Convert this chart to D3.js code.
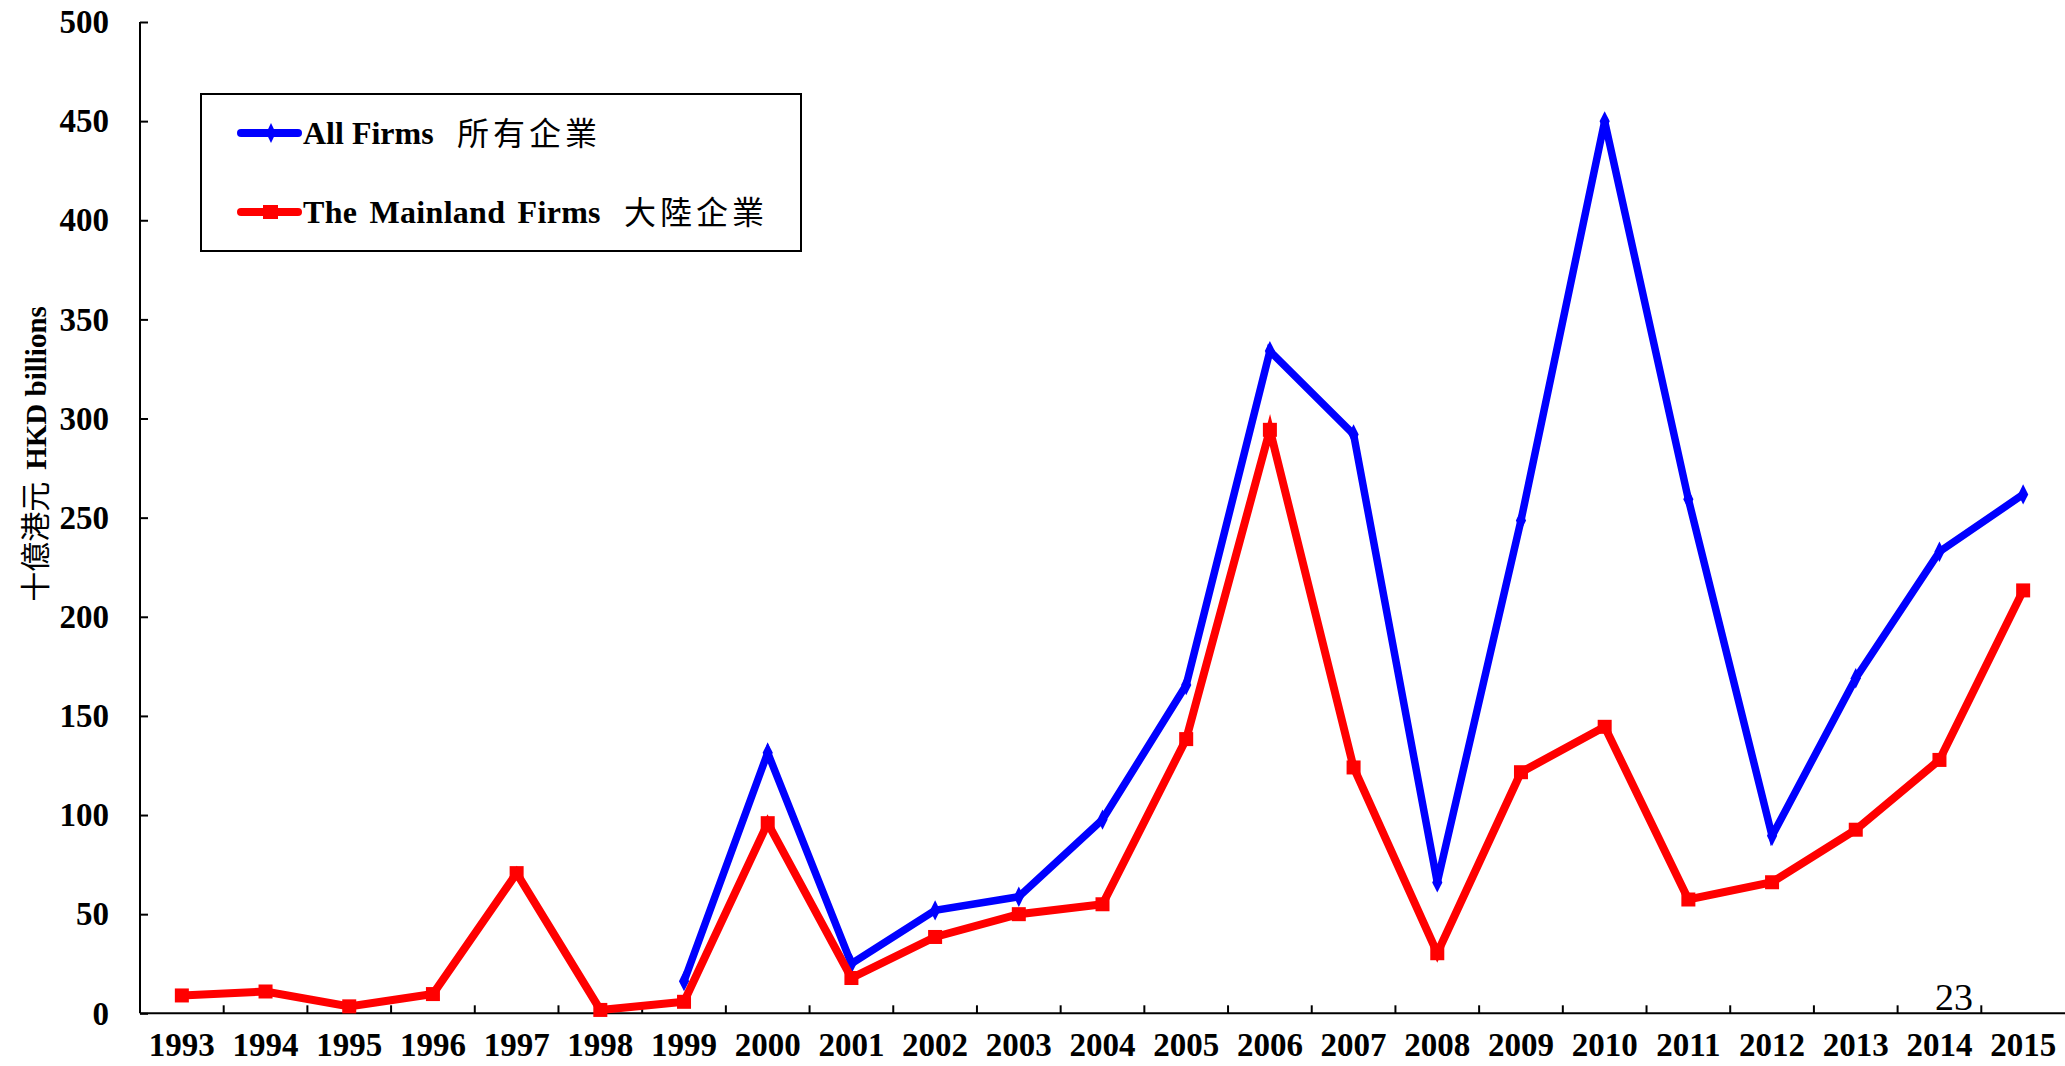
<!DOCTYPE html>
<html>
<head>
<meta charset="utf-8">
<script src="https://cdn.jsdelivr.net/npm/d3@7"></script>
<style>
  html, body { margin: 0; padding: 0; background: #fff; }
  svg { display: block; }
</style>
</head>
<body>
<svg id="chart" width="2065" height="1066"></svg>
<script>
// Annual funds raised, HKD billions
const years = ["1993","1994","1995","1996","1997","1998","1999","2000","2001","2002","2003","2004",
               "2005","2006","2007","2008","2009","2010","2011","2012","2013","2014","2015"];
const allFirms = [null, null, null, null, null, null, 16.2, 131.4, 25, 51.9, 58.8, 97.7,
                  165.6, 334, 292, 66, 248.6, 449.9, 259.3, 89.5, 169, 232.8, 261.7];
const mainlandFirms = [9, 11, 3.5, 9.7, 70.7, 1.7, 5.8, 95.9, 17.8, 38.5, 50, 55,
                       138.3, 294.3, 124, 30.3, 121.6, 144.5, 57.4, 66.1, 92.6, 127.8, 213.3];
const yTicks = [0, 50, 100, 150, 200, 250, 300, 350, 400, 450, 500];

const serif = "'Liberation Serif', 'Times New Roman', serif";
const cjk = "'Noto Sans CJK TC', 'Noto Sans CJK SC', sans-serif";
const BLUE = "#0000ff", RED = "#ff0000";

const svg = d3.select("#chart");

const x = d3.scaleBand().domain(years).range([140, 2065]).padding(0);
const y = d3.scaleLinear().domain([0, 500]).range([1013.3, 22]);
const cx = d => x(d) + x.bandwidth() / 2;

// Axes
const yAxis = svg.append("g").attr("transform", "translate(140,0)")
  .call(d3.axisRight(y).tickValues(yTicks).tickSize(8).tickFormat(""));
yAxis.select(".domain").attr("d", `M0,${y(500)}V${y(0)}`);
yAxis.selectAll("path, line").attr("stroke", "#000").attr("stroke-width", 2);

const boundaries = years.map(d => x(d));
const xAxis = svg.append("g").attr("transform", `translate(0,${y(0)})`);
xAxis.append("line").attr("x1", 140).attr("x2", 2065).attr("y1", 0).attr("y2", 0)
  .attr("stroke", "#000").attr("stroke-width", 2);
xAxis.selectAll("line.tick").data(boundaries.slice(1)).join("line")
  .attr("class", "tick").attr("x1", d => d).attr("x2", d => d).attr("y1", 0).attr("y2", -8)
  .attr("stroke", "#000").attr("stroke-width", 2);

// Tick labels
svg.append("g").selectAll("text").data(yTicks).join("text")
  .attr("x", 109).attr("y", d => y(d)).attr("dy", "0.34em")
  .attr("text-anchor", "end").attr("font-family", serif).attr("font-weight", "bold")
  .attr("font-size", 33).text(d => d);

svg.append("g").selectAll("text").data(years).join("text")
  .attr("x", d => cx(d)).attr("y", 1056)
  .attr("text-anchor", "middle").attr("font-family", serif).attr("font-weight", "bold")
  .attr("font-size", 33).text(d => d);

// Y axis title
const yTitle = svg.append("text")
  .attr("transform", "translate(46,454) rotate(-90)")
  .attr("text-anchor", "middle");
yTitle.append("tspan").attr("font-family", cjk).attr("font-size", 30).text("十億港元");
yTitle.append("tspan").attr("dx", 12).attr("font-family", serif).attr("font-weight", "bold")
  .attr("font-size", 29).text("HKD billions");

// Series lines
const line = d3.line()
  .defined(d => d.v != null)
  .x(d => cx(d.year))
  .y(d => y(d.v));

const mainData = years.map((yr, i) => ({ year: yr, v: mainlandFirms[i] }));
const allData = years.map((yr, i) => ({ year: yr, v: allFirms[i] }));

svg.append("path").datum(allData).attr("d", line)
  .attr("fill", "none").attr("stroke", BLUE).attr("stroke-width", 7.5)
  .attr("stroke-linejoin", "miter");
svg.append("g").selectAll("path").data(allData.filter(d => d.v != null)).join("path")
  .attr("d", d3.symbol().type(d3.symbolDiamond).size(90))
  .attr("transform", d => `translate(${cx(d.year)},${y(d.v)}) scale(1,1.15)`)
  .attr("fill", BLUE);

svg.append("path").datum(mainData).attr("d", line)
  .attr("fill", "none").attr("stroke", RED).attr("stroke-width", 8)
  .attr("stroke-linejoin", "miter");
svg.append("g").selectAll("rect").data(mainData).join("rect")
  .attr("x", d => cx(d.year) - 7).attr("y", d => y(d.v) - 7)
  .attr("width", 14).attr("height", 14).attr("fill", RED);

// Legend
const legend = svg.append("g");
legend.append("rect").attr("x", 201).attr("y", 94).attr("width", 600).attr("height", 157)
  .attr("fill", "#fff").attr("stroke", "#000").attr("stroke-width", 2);

const legendItems = [
  { color: BLUE, en: "All Firms", zh: "所有企業", ly: 133, zx: 457, marker: "diamond", ls: 0, ws: 0 },
  { color: RED, en: "The Mainland Firms", zh: "大陸企業", ly: 212, zx: 624, marker: "square", ls: 0.3, ws: 4 }
];
legendItems.forEach(it => {
  legend.append("line").attr("x1", 241).attr("x2", 298).attr("y1", it.ly).attr("y2", it.ly)
    .attr("stroke", it.color).attr("stroke-width", 8).attr("stroke-linecap", "round");
  if (it.marker === "diamond") {
    legend.append("path").attr("d", d3.symbol().type(d3.symbolDiamond).size(80))
      .attr("transform", `translate(271,${it.ly}) scale(1,1.2)`).attr("fill", it.color);
  } else {
    legend.append("rect").attr("x", 263).attr("y", it.ly - 7).attr("width", 15).attr("height", 14)
      .attr("fill", it.color);
  }
  legend.append("text").attr("x", 303).attr("y", it.ly + 11)
    .attr("font-family", serif).attr("font-weight", "bold").attr("font-size", 32)
    .attr("letter-spacing", it.ls).attr("word-spacing", it.ws).text(it.en);
  legend.append("text").attr("x", it.zx).attr("y", it.ly + 12)
    .attr("font-family", cjk).attr("font-size", 32).attr("letter-spacing", 4).text(it.zh);
});

// Page number
svg.append("text").attr("x", 1954).attr("y", 1010).attr("text-anchor", "middle")
  .attr("font-family", serif).attr("font-size", 38).text("23");
</script>
</body>
</html>
